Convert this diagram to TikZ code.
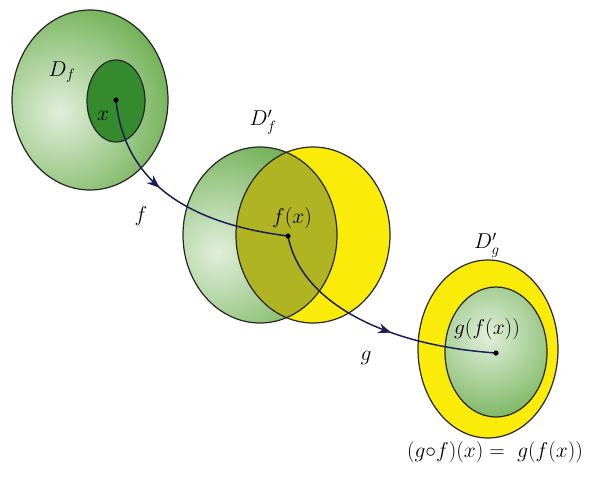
\documentclass[tikz,border=0pt]{standalone}
\usetikzlibrary{arrows.meta, decorations.markings}
\definecolor{lgreen}{RGB}{104,172,74}
\definecolor{dgreen}{RGB}{52,138,44}
\definecolor{yel}{RGB}{250,236,8}
\definecolor{mixol}{RGB}{176,180,34}
\definecolor{mapblue}{RGB}{28,30,86}

\begin{document}
\begin{tikzpicture}[
  x=1pt, y=-1pt,
  font=\fontsize{17.28}{21}\selectfont,
  rim/.style={draw=black!85, line width=1.2pt},
  glow/.style={inner color=white!80!lgreen, outer color=lgreen},
  mapcurve/.style={draw=mapblue, line width=1.5pt, postaction={decorate},
    decoration={markings,
      mark=at position #1 with {\arrow{Stealth[length=13pt, width=10pt]}}}},
  lbl/.style={inner sep=1pt, scale=1.24},
  dot/.style={fill=black}
]
  \useasboundingbox (0,0) rectangle (595,480);

  %--- D_f ---
  \begin{scope}
    \clip (90,100) ellipse [x radius=78pt, y radius=90pt];
    \shade[glow] (60,112) circle (125pt);
  \end{scope}
  \draw[rim] (90,100) ellipse [x radius=78pt, y radius=90pt];
  \draw[rim, fill=dgreen] (116,101) ellipse [x radius=29pt, y radius=41pt];

  %--- D'_f ---
  \begin{scope}
    \clip (260,235) ellipse [x radius=77pt, y radius=88pt];
    \shade[glow] (218,252) circle (130pt);
  \end{scope}
  \fill[yel] (313,235) ellipse [x radius=77pt, y radius=88pt];
  \begin{scope}
    \clip (260,235) ellipse [x radius=77pt, y radius=88pt];
    \fill[mixol] (313,235) ellipse [x radius=77pt, y radius=88pt];
  \end{scope}
  \draw[rim] (260,235) ellipse [x radius=77pt, y radius=88pt];
  \draw[rim] (313,235) ellipse [x radius=77pt, y radius=88pt];

  %--- D'_g ---
  \draw[rim, fill=yel] (488,349) ellipse [x radius=70pt, y radius=89pt];
  \begin{scope}
    \clip (496,352) ellipse [x radius=51pt, y radius=65pt];
    \shade[glow] (488,336) circle (100pt);
  \end{scope}
  \draw[rim] (496,352) ellipse [x radius=51pt, y radius=65pt];

  %--- points ---
  \coordinate (x) at (116,100);
  \coordinate (fx) at (288,236);
  \coordinate (gfx) at (496,353);

  %--- maps ---
  \draw[mapcurve=0.42] (x) .. controls (125,190) and (200,225) .. (fx);
  \draw[mapcurve=0.58] (fx) .. controls (300,300) and (380,345) .. (gfx);

  \foreach \p in {x,fx,gfx}
    \fill[dot] (\p) circle (2.6pt);

  %--- labels ---
  \node[lbl] (Df)  at (62,72)   {$D_f$};
  \node[lbl] (Dfp) at (263,122) {$D'_f$};
  \node[lbl] (Dgp) at (487,245) {$D'_g$};
  \node[lbl] (xl)  at (103,116) {$x$};
  \node[lbl] (fxl) at (292,218) {$f(x)$};
  \node[lbl] (gfl) at (487,329) {$g\bigl(f(x)\bigr)$};
  \node[lbl] (fl)  at (141,216) {$f$};
  \node[lbl] (gl)  at (366,358) {$g$};
  \node[lbl] (eq)  at (495,452) {$(g{\circ}f)(x) = \ g\bigl(f(x)\bigr)$};
\end{tikzpicture}
\end{document}
